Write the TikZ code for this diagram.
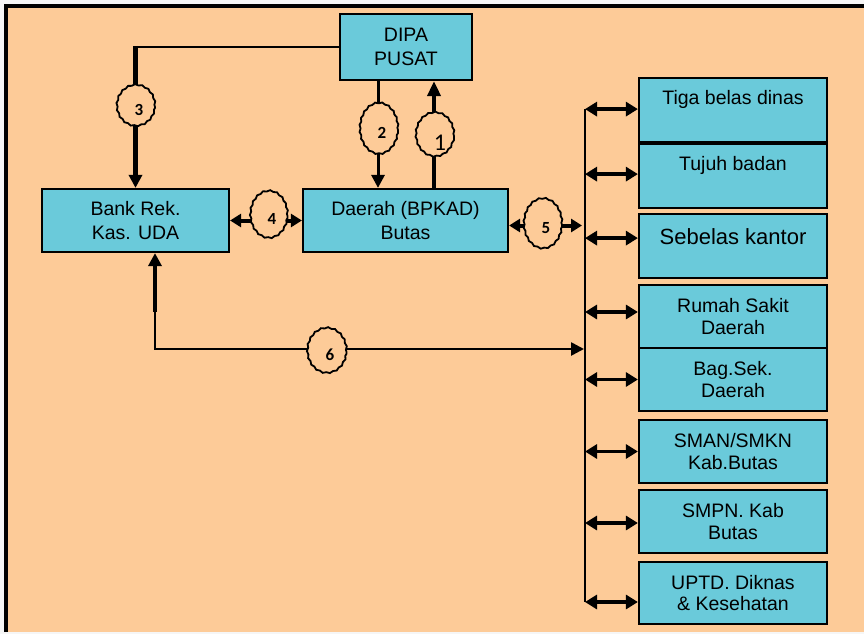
\documentclass[tikz,border=0pt]{standalone}
\usepackage{fontspec}
\setmainfont{Liberation Sans}
\newfontfamily\numfont{Carlito}
\usetikzlibrary{arrows.meta,shapes.geometric,decorations.pathmorphing}
\definecolor{peach}{RGB}{253,203,152}
\definecolor{boxcyan}{RGB}{106,202,218}
\tikzset{ftip/.tip={Triangle[width=13pt,length=13pt]}, stip/.tip={Triangle[width=14pt,length=12pt]}, mtip/.tip={Triangle[width=13pt,length=11pt]}}
\begin{document}
\begin{tikzpicture}[x=1pt,y=-1pt,
  box/.style={draw=black, line width=2.2pt, fill=boxcyan, inner sep=0pt, align=center,
    font=\fontsize{19.5}{23.5}\selectfont},
  rbox/.style={box, minimum width=188pt, font=\fontsize{19.5}{21.5}\selectfont},
  thinline/.style={line width=2.6pt},
  thickline/.style={line width=4.6pt},
  dbl/.style={line width=3.8pt, {stip}-{stip}},
  num/.style={ellipse, draw=black, line width=1.8pt, fill=peach, inner sep=0pt,
    decorate, decoration={snake, segment length=7pt, amplitude=0.6pt},
    label={[font=\numfont\bfseries\fontsize{17}{17}\selectfont, xshift=3pt, yshift=-3pt]center:#1}},
]
\useasboundingbox (0,0) rectangle (864,634);
\fill[white!93!gray] (0,0) rectangle (864,634);
\fill[peach] (6,6) rectangle (864,632);
\draw[line width=4pt] (6,632) -- (6,6) -- (864,6);

% main boxes
\node[box, minimum width=132pt, minimum height=66pt] (dipa) at (406,47) {DIPA\\PUSAT};
\node[box, minimum width=187pt, minimum height=63pt] (bank) at (135.5,220.5) {Bank Rek.\\Kas. UDA};
\node[box, minimum width=205pt, minimum height=63pt] (daerah) at (405.5,220.5) {Daerah (BPKAD)\\Butas};

% right column
\node[rbox, anchor=north, text height=26pt, text depth=38pt, minimum height=64pt] (r1) at (733,77) {Tiga belas dinas};
\node[rbox, anchor=north, text height=26pt, text depth=38pt, minimum height=64pt] (r2) at (733,143) {Tujuh badan};
\node[rbox, anchor=north, text height=30pt, text depth=34pt, minimum height=64pt, font=\fontsize{22}{24}\selectfont] (r3) at (733,213) {Sebelas kantor};
\node[rbox, minimum height=63pt] (r4) at (733,316.5) {Rumah Sakit\\Daerah};
\node[rbox, minimum height=63pt] (r5) at (733,379.5) {Bag.Sek.\\Daerah};
\node[rbox, minimum height=63pt] (r6) at (733,451.5) {SMAN/SMKN\\Kab.Butas};
\node[rbox, minimum height=63pt] (r7) at (733,521.5) {SMPN. Kab\\Butas};
\node[rbox, minimum height=62pt] (r8) at (733,593) {UPTD. Diknas\\\& Kesehatan};

% bus
\coordinate (bus) at (585,0);
\coordinate (e1) at ([yshift=1pt]r1.west);
\coordinate (e2) at ([yshift=2pt]r2.west);
\coordinate (e3) at ([yshift=8pt]r3.west);
\coordinate (e4) at ([yshift=4.5pt]r4.west);
\coordinate (e5) at ([yshift=0pt]r5.west);
\coordinate (e6) at ([yshift=0pt]r6.west);
\coordinate (e7) at ([yshift=-1.5pt]r7.west);
\coordinate (e8) at ([yshift=-9pt]r8.west);
\draw[thinline] (e1 -| bus) -- (e8 -| bus);
\foreach \i in {1,...,8} { \draw[dbl] (e\i -| bus) -- (e\i); }

% arrow 3
\coordinate (c3) at (dipa.west -| bank.north);
\draw[thinline, line cap=rect] (dipa.west) -- (c3);
\draw[thickline, -{ftip}] ([yshift=1pt]c3) -- (bank.north);
\node[num=3, minimum width=38pt, minimum height=41pt] (n3) at (136,107) {};

% arrow 2 and 1
\coordinate (a2) at ([xshift=-28pt]dipa.south);
\coordinate (a1) at ([xshift=28pt]dipa.south);
\draw[line width=3pt, -{ftip}] (a2) -- (a2 |- daerah.north);
\draw[thickline, -{Triangle[width=13pt,length=15pt]}] (a1 |- daerah.north) -- (a1);
\node[num=2, minimum width=38pt, minimum height=51pt] (n2) at (379,130) {};
\node[ellipse, draw=black, line width=1.8pt, fill=peach, inner sep=0pt,
  decorate, decoration={snake, segment length=7pt, amplitude=0.6pt},
  minimum width=38pt, minimum height=44pt,
  label={[font=\numfont\fontsize{24}{24}\selectfont, xshift=5pt, yshift=-7pt]center:1}] (n1) at (435,136) {};

% arrow 4
\draw[line width=4pt, {mtip}-{mtip}] (bank.east) -- (daerah.west);
\node[num=4, minimum width=37pt, minimum height=47pt] (n4) at (269,216) {};

% arrow 5
\coordinate (e5s) at ([yshift=-5pt]daerah.east);
\draw[line width=4pt, shorten >=3pt, {mtip}-{mtip}] (e5s) -- (e5s -| bus);
\node[num=5, minimum width=38pt, minimum height=50pt] (n5) at (543,225) {};

% arrow 6
\coordinate (c6) at (155,349);
\coordinate (c6t) at (155,312);
\draw[thinline, shorten >=1pt, -{ftip}] (c6t) -- (c6) -- (c6 -| bus);
\draw[thickline, -{ftip}] (c6t) -- (c6t |- bank.south);
\node[num=6, minimum width=39pt, minimum height=45pt] (n6) at (327,352) {};
\end{tikzpicture}
\end{document}
